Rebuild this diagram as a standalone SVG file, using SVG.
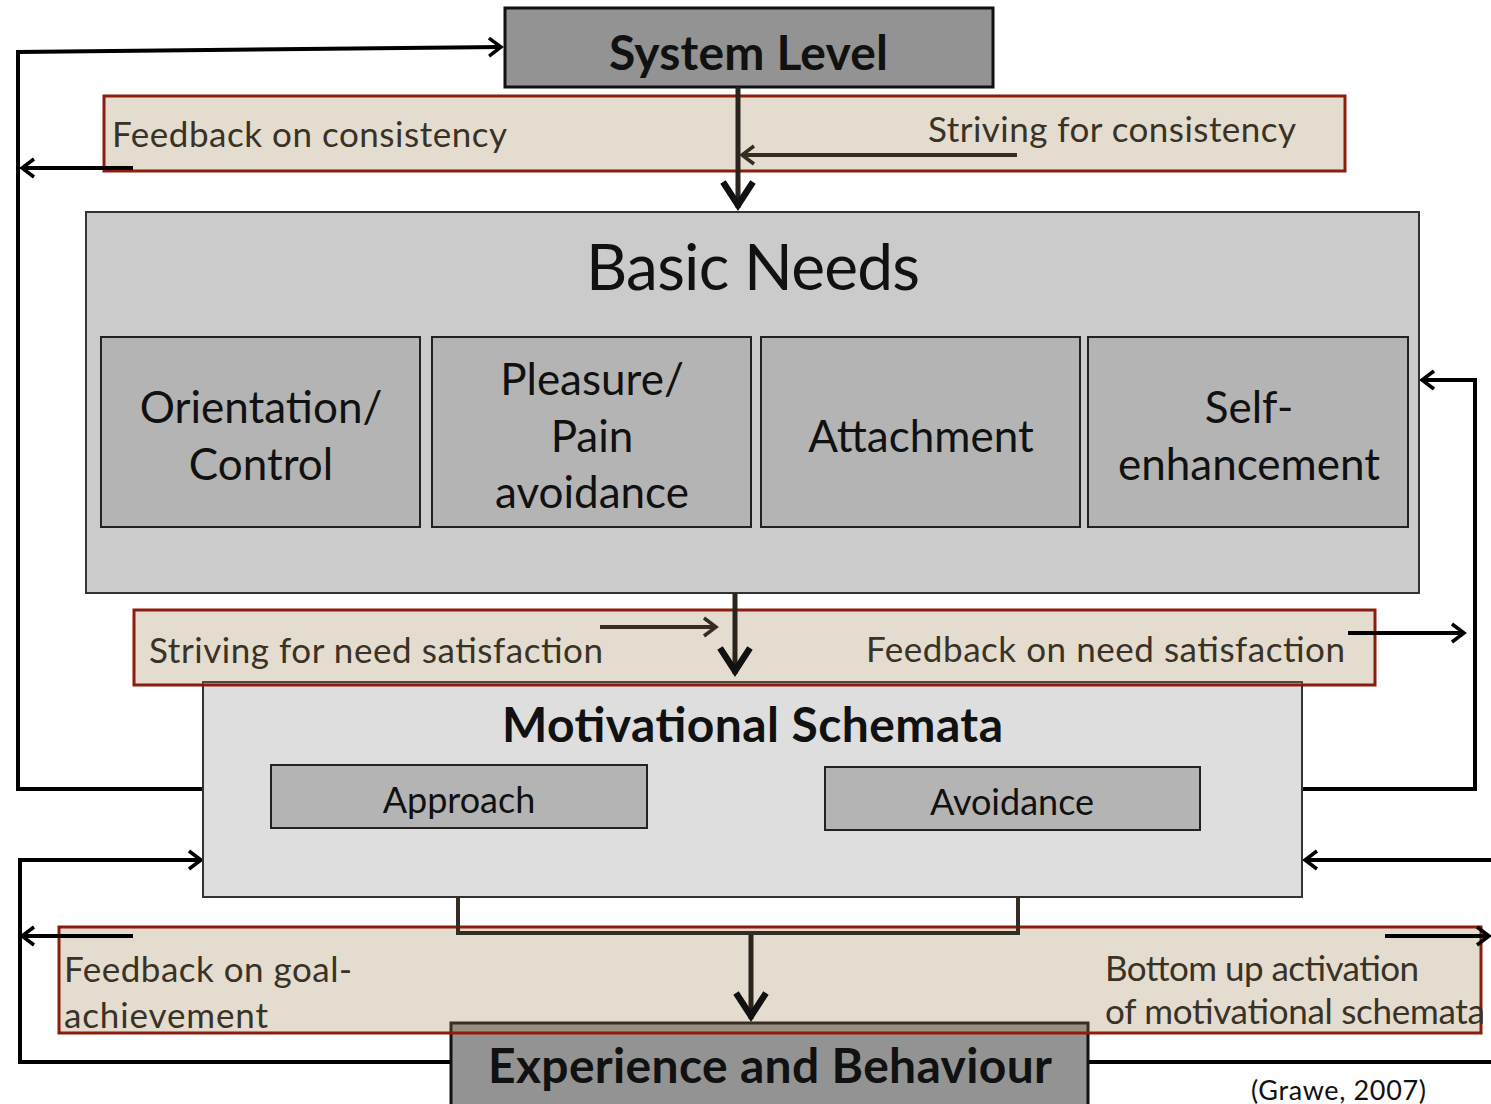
<svg xmlns="http://www.w3.org/2000/svg" width="1491" height="1104" viewBox="0 0 1491 1104">
  <style>
    text { font-family: Lato, "Open Sans", "Liberation Sans", sans-serif; fill: #111; }
    .title { font-weight: bold; font-size: 48px; }
    .big { font-size: 64px; }
    .need { font-size: 44px; text-anchor: middle; }
    .band-t { font-size: 35px; fill: #3a3226; }
    .small { font-size: 36px; text-anchor: middle; }
    .cite { font-size: 27px; fill: #111; }
    .dark-box { fill: #939393; stroke: #111; stroke-width: 3; }
    .outer { fill: #cbcbcb; stroke: #333; stroke-width: 2; }
    .inner { fill: #b4b4b4; stroke: #222; stroke-width: 2; }
    .light { fill: #dedede; stroke: #333; stroke-width: 2; }
    .band { fill: rgba(158,130,83,0.28); stroke: #8c1c0c; stroke-width: 3; }
    .wire { fill: none; stroke: #000; stroke-width: 4; stroke-linejoin: miter; }
    .wire-b { fill: none; stroke: #352d22; stroke-width: 4; }
    .main { fill: none; stroke: #2a241c; stroke-width: 5; }
  </style>
  <defs>
    <marker id="head" viewBox="-16 -12 20 24" refX="0" refY="0" markerWidth="20" markerHeight="24" markerUnits="userSpaceOnUse" orient="auto">
      <path d="M-12,-9 L0,0 L-12,9" fill="none" stroke="#000" stroke-width="3.5"/>
    </marker>
    <marker id="head-b" viewBox="-16 -12 20 24" refX="0" refY="0" markerWidth="20" markerHeight="24" markerUnits="userSpaceOnUse" orient="auto">
      <path d="M-12,-9 L0,0 L-12,9" fill="none" stroke="#352d22" stroke-width="3.5"/>
    </marker>
    <marker id="head-big" viewBox="-32 -22 38 44" refX="0" refY="0" markerWidth="38" markerHeight="44" markerUnits="userSpaceOnUse" orient="auto">
      <path d="M-26,-15 L-3,0 L-26,15" fill="none" stroke="#111" stroke-width="6.5"/>
    </marker>
  </defs>

  <!-- outer feedback loops (behind boxes) -->
  <g id="loops">
    <path class="wire" d="M203,789 H18 V52 L501,47" marker-end="url(#head)"/>
    <path class="wire" d="M1302,789 H1475 V380 H1422" marker-end="url(#head)"/>
    <path class="wire" d="M451,1062 H20 V860 H201" marker-end="url(#head)"/>
    <path class="wire" d="M1491,860 H1305" marker-end="url(#head)"/>
    <path class="wire" d="M1088,1062 H1491"/>
  </g>

  <g id="system-level">
    <rect class="dark-box" x="505" y="8" width="488" height="79"/>
    <text class="title" x="609" y="70" textLength="279">System Level</text>
  </g>

  <g id="basic-needs">
    <rect class="outer" x="86" y="212" width="1333" height="381"/>
    <text class="big" x="586" y="290" textLength="334">Basic Needs</text>
  </g>
  <g id="orientation-control">
    <rect class="inner" x="101" y="337" width="319" height="190"/>
    <text class="need" x="261" y="423">Orientation/</text>
    <text class="need" x="261" y="480">Control</text>
  </g>
  <g id="pleasure-pain">
    <rect class="inner" x="432" y="337" width="319" height="190"/>
    <text class="need" x="592" y="395">Pleasure/</text>
    <text class="need" x="592" y="452">Pain</text>
    <text class="need" x="592" y="508">avoidance</text>
  </g>
  <g id="attachment">
    <rect class="inner" x="761" y="337" width="319" height="190"/>
    <text class="need" x="921" y="452">Attachment</text>
  </g>
  <g id="self-enhancement">
    <rect class="inner" x="1088" y="337" width="320" height="190"/>
    <text class="need" x="1249" y="423">Self-</text>
    <text class="need" x="1249" y="480">enhancement</text>
  </g>

  <g id="motivational-schemata">
    <rect class="light" x="203" y="682" width="1099" height="215"/>
    <text class="title" x="502" y="742" textLength="501">Motivational Schemata</text>
  </g>
  <g id="approach">
    <rect class="inner" x="271" y="765" width="376" height="63"/>
    <text class="small" x="459" y="813">Approach</text>
  </g>
  <g id="avoidance">
    <rect class="inner" x="825" y="767" width="375" height="63"/>
    <text class="small" x="1012" y="815">Avoidance</text>
  </g>

  <g id="experience-behaviour">
    <rect class="dark-box" x="451" y="1023" width="637" height="90"/>
    <text class="title" x="488" y="1083" textLength="564">Experience and Behaviour</text>
  </g>

  <!-- translucent label bands -->
  <g id="band-consistency">
    <rect class="band" x="104" y="96" width="1241" height="75"/>
    <text class="band-t" x="112" y="147" textLength="395">Feedback on consistency</text>
    <text class="band-t" x="928" y="142" textLength="368">Striving for consistency</text>
  </g>
  <g id="band-need">
    <rect class="band" x="134" y="610" width="1241" height="75"/>
    <text class="band-t" x="149" y="663" textLength="454">Striving for need satisfaction</text>
    <text class="band-t" x="866" y="662" textLength="479">Feedback on need satisfaction</text>
  </g>
  <g id="band-goal">
    <rect class="band" x="59" y="927" width="1422" height="106"/>
    <text class="band-t" x="64" y="982" textLength="288">Feedback on goal-</text>
    <text class="band-t" x="64" y="1028" textLength="204">achievement</text>
    <text class="band-t" x="1105" y="981" textLength="314">Bottom up activation</text>
    <text class="band-t" x="1105" y="1024" textLength="380">of motivational schemata</text>
  </g>

  <g id="connectors">
    <path class="main" d="M738,87 V208" marker-end="url(#head-big)"/>
    <path class="main" d="M735,593 V674" marker-end="url(#head-big)"/>
    <path class="main" d="M751,933 V1019" marker-end="url(#head-big)"/>
    <path class="wire-b" d="M458,897 V933 H1018 V897"/>
    <path class="wire-b" d="M1017,155 H742" marker-end="url(#head-b)"/>
    <path class="wire" d="M133,168 H22" marker-end="url(#head)"/>
    <path class="wire-b" d="M600,627 H716" marker-end="url(#head-b)"/>
    <path class="wire" d="M1348,633 H1464" marker-end="url(#head)"/>
    <path class="wire" d="M133,936 H22" marker-end="url(#head)"/>
    <path class="wire" d="M1385,936 H1489" marker-end="url(#head)"/>
  </g>

  <text class="cite" x="1251" y="1100" textLength="175">(Grawe, 2007)</text>
</svg>
